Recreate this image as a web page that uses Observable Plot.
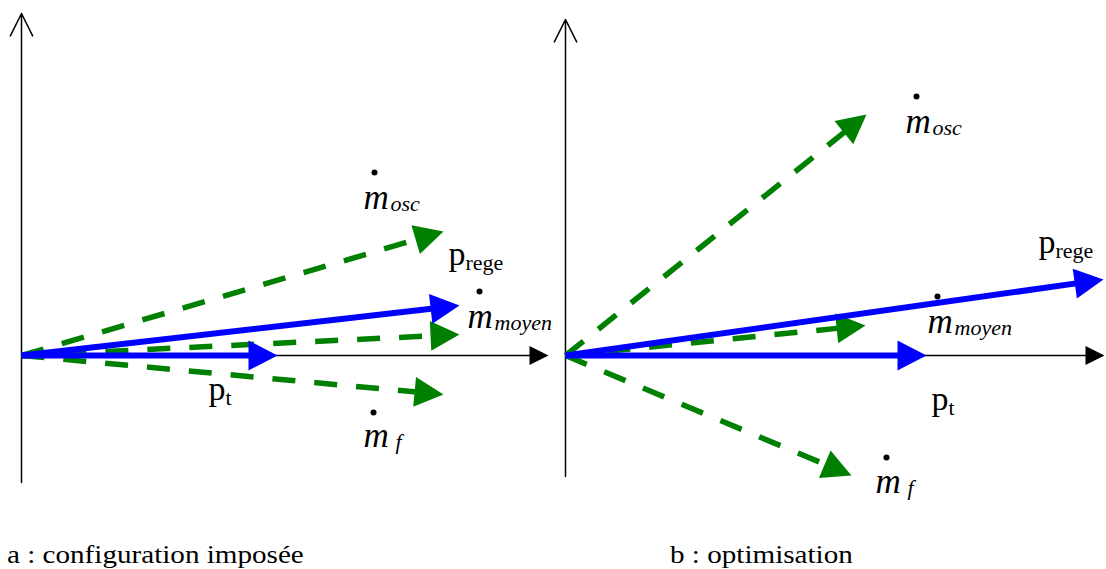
<!DOCTYPE html>
<html>
<head>
<meta charset="utf-8">
<script src="https://cdn.jsdelivr.net/npm/d3@7"></script>
<script src="https://cdn.jsdelivr.net/npm/@observablehq/plot@0.6"></script>
<style>
  body { margin: 0; background: #fff; }
  #wrap { position: relative; width: 1106px; height: 569px; overflow: hidden; }
  #panels { display: flex; }
  .cap { position: absolute; top: 540px; line-height: 30px; font-family: "Liberation Serif", "LiberationSerif", Tinos, "Times New Roman", Times, "DejaVu Serif", serif; font-size: 26px; white-space: nowrap; color: #000; transform: scaleX(1.12); transform-origin: 0 0; }
</style>
</head>
<body>
<div id="wrap">
  <div id="panels"></div>
  <div class="cap" id="capA" style="left:7px"></div>
  <div class="cap" id="capB" style="left:670px"></div>
</div>
<script>
// ---------- data (diagram units, origin of each panel at 0,0) ----------
const captions = ["a : configuration imposée", "b : optimisation"];

// axes: [x axis end, y axis top, y axis bottom]
const axisA = [10.54, 6.84, -2.54];
const axisB = [10.78, 6.72, -2.42];

// blue vectors p_t, p_rege (tips)
const pNames = ["t", "rege"];
const blueA = [[5.12, 0.00], [8.76, 1.00]];
const blueB = [[7.22, 0.00], [10.76, 1.52]];

// green dashed vectors towards m_osc, m_moyen, m_f (tips)
const mNames = ["osc", "moyen", "f"];
const greenA = [[8.44, 2.48], [8.76, 0.42], [8.44, -0.78]];
const greenB = [[6.02, 4.82], [6.00, 0.60], [5.72, -2.40]];

// points m_osc, m_moyen, m_f
const pointsA = [[7.06, 3.66], [9.16, 1.28], [7.04, -1.14]];
const pointsB = [[7.02, 5.18], [7.44, 1.18], [6.42, -2.04]];

// label anchors (baseline, left)
const mLabelsA = [[6.84, 2.94], [8.92, 0.56], [6.84, -1.82]];
const mLabelsB = [[6.80, 4.46], [7.24, 0.46], [6.20, -2.74]];
const pLabelsA = [[3.74, -0.88], [8.54, 1.82]];
const pLabelsB = [[7.32, -1.08], [9.46, 2.06]];

// ---------- layout ----------
const K = 50;            // pixels per unit (same on both axes)
const W = 553, H = 530;  // each panel's svg
const originA = [21, 355];
const originB = [12, 355];
const BLUE = "#0000ff", GREEN = "#008000";
const SERIF = "'Liberation Serif', 'LiberationSerif', Tinos, 'Times New Roman', Times, 'DejaVu Serif', serif";

function headShape(L, Wd) {
  return {
    draw(ctx) {
      ctx.moveTo(0, 0);
      ctx.lineTo(-Wd / 2, L);
      ctx.lineTo(Wd / 2, L);
      ctx.closePath();
    }
  };
}
const bigHead = headShape(29, 30);
const axisHead = headShape(19, 19);
const angle = (d) => Math.atan2(d[0], d[1]) * 180 / Math.PI;
function shaftEnd(d, Lpx) {
  const len = Math.hypot(d[0], d[1]);
  const s = (len - Lpx / K) / len;
  return [d[0] * s, d[1] * s];
}

function panel(axis, blue, green, points, mLabels, pLabels, origin) {
  const [ox, oy] = origin;
  const xAxisTip = [[axis[0], 0]];
  const green2 = green.map((d, i) => ({tip: d, end: shaftEnd(d, 24), name: mNames[i]}));
  const blue2 = blue.map((d, i) => ({tip: d, end: shaftEnd(d, 24), name: pNames[i]}));
  const mL = mLabels.map((d, i) => ({x: d[0], y: d[1], name: mNames[i]}));
  const pL = pLabels.map((d, i) => ({x: d[0], y: d[1], name: pNames[i]}));
  return Plot.plot({
    width: W,
    height: H,
    margin: 0,
    style: {background: "white", overflow: "visible"},
    x: {domain: [-ox / K, (W - ox) / K], range: [0, W], axis: null},
    y: {domain: [-(H - oy) / K, oy / K], range: [H, 0], axis: null},
    marks: [
      // vertical axis with open arrow
      Plot.arrow([axis], {x1: 0, x2: 0, y1: (d) => d[2], y2: (d) => d[1], stroke: "black", strokeWidth: 1.5, headLength: 25, headAngle: 53}),
      // horizontal axis with filled head
      Plot.link(xAxisTip, {x1: 0, y1: 0, x2: (d) => shaftEnd(d, 17)[0], y2: 0, stroke: "black", strokeWidth: 1.5}),
      Plot.vector(xAxisTip, {x: (d) => d[0], y: (d) => d[1], rotate: angle, length: 1, anchor: "start", shape: axisHead, fill: "black", stroke: "none"}),
      // green dashed vectors
      Plot.link(green2, {x1: 0, y1: 0, x2: (d) => d.end[0], y2: (d) => d.end[1], stroke: GREEN, strokeWidth: 5.5, strokeDasharray: "23,19"}),
      Plot.vector(green2, {x: (d) => d.tip[0], y: (d) => d.tip[1], rotate: (d) => angle(d.tip), length: 1, anchor: "start", shape: bigHead, fill: GREEN, stroke: "none"}),
      // blue vectors
      Plot.link(blue2, {x1: 0, y1: 0, x2: (d) => d.end[0], y2: (d) => d.end[1], stroke: BLUE, strokeWidth: 6}),
      Plot.vector(blue2, {x: (d) => d.tip[0], y: (d) => d.tip[1], rotate: (d) => angle(d.tip), length: 1, anchor: "start", shape: bigHead, fill: BLUE, stroke: "none"}),
      // points
      Plot.dot(points, {x: (d) => d[0], y: (d) => d[1], r: 3, fill: "black", stroke: "none"}),
      // m labels
      Plot.text(mL, {x: "x", y: "y", text: () => "m", fontFamily: SERIF, fontStyle: "italic", fontSize: 35, textAnchor: "start", lineAnchor: "bottom", fill: "black"}),
      Plot.text(mL.filter((d) => d.name !== "f"), {x: "x", y: "y", text: "name", dx: 27, dy: 2, fontFamily: SERIF, fontStyle: "italic", fontSize: 22, textAnchor: "start", lineAnchor: "bottom", fill: "black"}),
      Plot.text(mL.filter((d) => d.name === "f"), {x: "x", y: "y", text: "name", dx: 32, dy: 2, fontFamily: SERIF, fontStyle: "italic", fontSize: 22, textAnchor: "start", lineAnchor: "bottom", fill: "black"}),
      // p labels
      Plot.text(pL, {x: "x", y: "y", text: () => "p", fontFamily: SERIF, fontSize: 34, textAnchor: "start", lineAnchor: "bottom", fill: "black"}),
      Plot.text(pL, {x: "x", y: "y", text: "name", dx: 17, dy: 5, fontFamily: SERIF, fontSize: 22, textAnchor: "start", lineAnchor: "bottom", fill: "black"})
    ]
  });
}

const host = document.getElementById("panels");
host.appendChild(panel(axisA, blueA, greenA, pointsA, mLabelsA, pLabelsA, originA));
host.appendChild(panel(axisB, blueB, greenB, pointsB, mLabelsB, pLabelsB, originB));
document.getElementById("capA").textContent = captions[0];
document.getElementById("capB").textContent = captions[1];
</script>
</body>
</html>
